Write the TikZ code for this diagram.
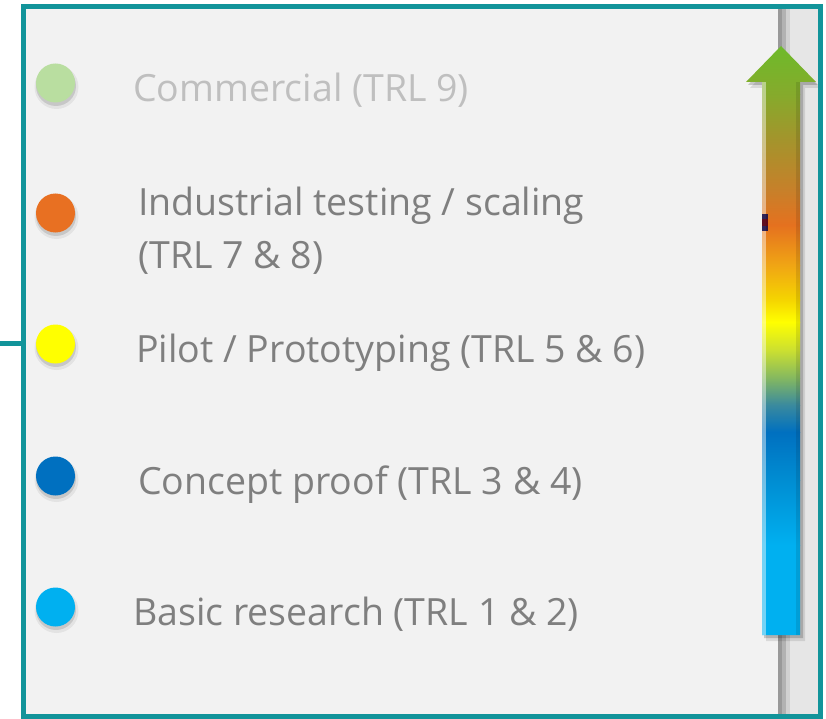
\documentclass[tikz,border=0pt]{standalone}
\usepackage{fontspec}
\setmainfont{Open Sans}
\usetikzlibrary{calc}
\definecolor{frameteal}{RGB}{18,148,154}
\definecolor{bgpanel}{RGB}{242,242,242}
\definecolor{bgright}{RGB}{230,230,230}
\definecolor{txtgray}{RGB}{127,127,127}
\definecolor{txtlight}{RGB}{191,191,191}
\definecolor{dotgreen}{RGB}{185,222,160}
\definecolor{dotorange}{RGB}{232,112,34}
\definecolor{dotyellow}{RGB}{255,255,0}
\definecolor{dotblue}{RGB}{0,112,192}
\definecolor{dotcyan}{RGB}{0,176,240}
\definecolor{g0}{RGB}{110,186,42}
\definecolor{g1}{RGB}{134,170,44}
\definecolor{g2}{RGB}{164,148,44}
\definecolor{g3}{RGB}{199,128,42}
\definecolor{g4}{RGB}{229,113,31}
\definecolor{g5}{RGB}{240,165,20}
\definecolor{g6}{RGB}{245,213,0}
\definecolor{g7}{RGB}{255,255,0}
\definecolor{g8}{RGB}{204,224,48}
\definecolor{g9}{RGB}{132,184,96}
\definecolor{g10}{RGB}{58,138,158}
\definecolor{g11}{RGB}{0,112,192}
\definecolor{g12}{RGB}{0,141,210}
\definecolor{g13}{RGB}{0,176,240}
\begin{document}
\begin{tikzpicture}[x=1pt,y=-1pt,
  dotnode/.style={circle,minimum size=39pt,inner sep=0pt,draw=none},
  lbl/.style={anchor=base west,inner sep=0pt,text=txtgray,font=\fontsize{37.5}{44}\selectfont},
  lbllight/.style={lbl,text=txtlight}]
\useasboundingbox (0,0) rectangle (826,719);
% panel background
\fill[bgpanel] (23,7) rectangle (820,716);
\fill[bgright] (790,7) rectangle (820,716);
% vertical gray rule
\fill[black!40] (778,7) rectangle (782,716);
\fill[black!30] (782,7) rectangle (786,716);
\fill[black!18] (786,7) rectangle (790,716);
% arrow shadow
\fill[black,opacity=0.10] (750,88) -- (785,52) -- (820,88) -- (805,88) -- (805,641) -- (766,641) -- (766,88) -- cycle;
\fill[black,opacity=0.18] (748,85) -- (783,49) -- (818,85) -- (803,85) -- (803,638) -- (764,638) -- (764,85) -- cycle;
% arrow body with gradient
\begin{scope}
\clip (746,82) -- (781,46) -- (816,82) -- (800,82) -- (800,635) -- (762,635) -- (762,82) -- cycle;
\shade[top color=g0,bottom color=g1] (740,46) rectangle (820,95);
\shade[top color=g1,bottom color=g2] (740,95) rectangle (820,140);
\shade[top color=g2,bottom color=g3] (740,140) rectangle (820,190);
\shade[top color=g3,bottom color=g4] (740,190) rectangle (820,225);
\shade[top color=g4,bottom color=g5] (740,225) rectangle (820,265);
\shade[top color=g5,bottom color=g6] (740,265) rectangle (820,300);
\shade[top color=g6,bottom color=g7] (740,300) rectangle (820,322);
\shade[top color=g7,bottom color=g8] (740,322) rectangle (820,350);
\shade[top color=g8,bottom color=g9] (740,350) rectangle (820,378);
\shade[top color=g9,bottom color=g10] (740,378) rectangle (820,405);
\shade[top color=g10,bottom color=g11] (740,405) rectangle (820,432);
\shade[top color=g11,bottom color=g12] (740,432) rectangle (820,480);
\shade[top color=g12,bottom color=g13] (740,480) rectangle (820,545);
\fill[g13] (740,545) rectangle (820,636);
\fill[white,opacity=0.45] (762,82) rectangle (766,635);
\fill[black,opacity=0.10] (796,82) rectangle (800,635);
\end{scope}
% small mark beside the arrow
\fill[black!70!blue,opacity=0.8] (762,214) rectangle (768,231);
\fill[red!50!black,opacity=0.6] (762,219) rectangle (768,226);
% dots with soft shadows
\foreach \y in {83,213,344,476,607}{
  \fill[black,opacity=0.06] (56.5,\y+4) circle (22);
  \fill[black,opacity=0.12] (56,\y+3) circle (20);
}
\node[dotnode,fill=dotgreen] (d9) at (55.5,83) {};
\node[dotnode,fill=dotorange] (d78) at (55.5,213) {};
\node[dotnode,fill=dotyellow] (d56) at (55.5,344) {};
\node[dotnode,fill=dotblue] (d34) at (55.5,476) {};
\node[dotnode,fill=dotcyan] (d12) at (55.5,607) {};
% labels
\node[lbllight] (t9) at (133,102) {Commercial (TRL 9)};
\node[lbl] (t78a) at (138,215) {Industrial testing / scaling};
\node[lbl] (t78b) at (138,268) {(TRL 7 \& 8)};
\node[lbl] (t56) at (136,362) {Pilot / Prototyping (TRL 5 \& 6)};
\node[lbl] (t34) at (138,494) {Concept proof (TRL 3 \& 4)};
\node[lbl] (t12) at (133,625) {Basic research (TRL 1 \& 2)};
% frame
\draw[frameteal,line width=5pt] (23,7) rectangle (820,716);
% left connector
\coordinate (lineL) at (0,343);
\coordinate (lineR) at (23,343);
\draw[frameteal,line width=5pt] (lineL) -- (lineR);
\end{tikzpicture}
\end{document}
